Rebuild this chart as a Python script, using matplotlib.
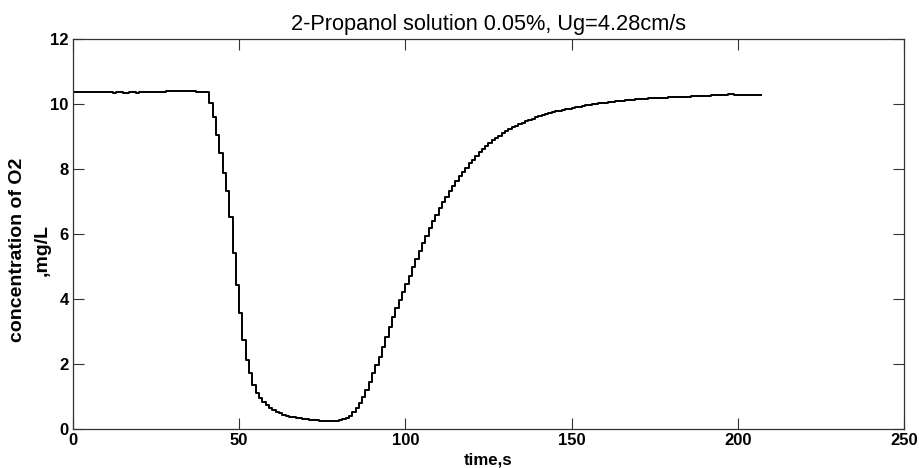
import matplotlib
matplotlib.use("Agg")
import matplotlib.pyplot as plt
import numpy as np

# time in seconds, one sample per second
time_s = np.arange(0, 208)

# O2 concentration, mg/L
o2_conc = [
    10.38, 10.38, 10.37, 10.38, 10.38, 10.37, 10.38, 10.37, 10.37, 10.38,
    10.37, 10.37, 10.36, 10.37, 10.37, 10.36, 10.36, 10.37, 10.37, 10.36,
    10.37, 10.37, 10.38, 10.37, 10.38, 10.38, 10.39, 10.39, 10.40, 10.41,
    10.41, 10.42, 10.41, 10.41, 10.40, 10.40, 10.40, 10.39, 10.38, 10.38,
    10.38, 10.03, 9.60, 9.06, 8.49, 7.90, 7.33, 6.54, 5.41, 4.43,
    3.57, 2.75, 2.13, 1.72, 1.36, 1.11, 0.97, 0.85, 0.74, 0.65,
    0.58, 0.53, 0.49, 0.45, 0.42, 0.39, 0.37, 0.35, 0.34, 0.32,
    0.31, 0.30, 0.29, 0.28, 0.27, 0.27, 0.26, 0.25, 0.26, 0.25,
    0.28, 0.31, 0.35, 0.42, 0.52, 0.66, 0.82, 1.00, 1.22, 1.47,
    1.72, 1.97, 2.22, 2.52, 2.83, 3.15, 3.45, 3.73, 3.98, 4.22,
    4.46, 4.72, 4.98, 5.25, 5.50, 5.72, 5.95, 6.18, 6.40, 6.60,
    6.80, 6.98, 7.15, 7.32, 7.48, 7.63, 7.78, 7.92, 8.05, 8.18,
    8.30, 8.41, 8.52, 8.62, 8.72, 8.81, 8.89, 8.97, 9.04, 9.11,
    9.17, 9.23, 9.29, 9.34, 9.39, 9.44, 9.48, 9.52, 9.56, 9.60,
    9.63, 9.66, 9.69, 9.72, 9.75, 9.78, 9.80, 9.83, 9.85, 9.87,
    9.89, 9.91, 9.93, 9.95, 9.97, 9.99, 10.00, 10.02, 10.03, 10.04,
    10.05, 10.06, 10.08, 10.09, 10.10, 10.11, 10.12, 10.13, 10.14, 10.15,
    10.16, 10.16, 10.17, 10.18, 10.18, 10.19, 10.19, 10.20, 10.20, 10.21,
    10.21, 10.22, 10.22, 10.23, 10.23, 10.24, 10.25, 10.25, 10.26, 10.26,
    10.27, 10.27, 10.28, 10.28, 10.29, 10.29, 10.30, 10.31, 10.31, 10.30,
    10.30, 10.29, 10.29, 10.28, 10.29, 10.28, 10.28, 10.28,
]

x_ticks = [0, 50, 100, 150, 200, 250]
y_ticks = [0, 2, 4, 6, 8, 10, 12]

plt.rcParams['font.family'] = ['Liberation Sans', 'DejaVu Sans']

fig = plt.figure(figsize=(9.2, 4.68), dpi=100)
ax = fig.add_axes([0.0793, 0.0827, 0.9033, 0.8333])

ax.plot(time_s, o2_conc, color="black", lw=1.4, drawstyle="steps-post")

ax.set_xlim(0, 250)
ax.set_ylim(0, 12)
ax.set_xticks(x_ticks)
ax.set_yticks(y_ticks)
ax.tick_params(direction="in", length=8, width=0.8, top=True, right=True,
               labelsize=12, pad=3, colors="#333333", labelcolor="black")
for lbl in ax.get_xticklabels() + ax.get_yticklabels():
    lbl.set_fontweight("bold")
for sp in ax.spines.values():
    sp.set_color("#333333")
    sp.set_linewidth(0.9)

ax.set_title("2-Propanol solution 0.05%, Ug=4.28cm/s", fontsize=15.7, pad=7)
ax.set_xlabel("time,s", fontsize=12.2, fontweight="bold", labelpad=3)
ax.set_ylabel("concentration of O2\n,mg/L", fontsize=14, fontweight="bold",
              linespacing=1.55)
ax.yaxis.set_label_coords(-0.027, 0.46)

fig.savefig("out.png", dpi=100)
